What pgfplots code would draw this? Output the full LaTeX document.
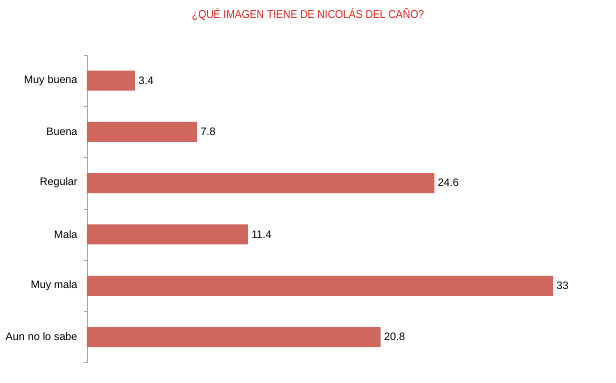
\documentclass[border=0pt]{standalone}
\usepackage{pgfplots}
\pgfplotsset{compat=1.18}
\usepackage{fontspec}
\setmainfont{Liberation Sans}
\definecolor{barc}{HTML}{D0675E}
\definecolor{titc}{HTML}{D7201E}
\begin{document}
\begin{tikzpicture}
\path[use as bounding box] (-87bp,-20.3bp) rectangle (529bp,362.7bp);
\begin{axis}[
  at={(0,0)}, anchor=south west,
  scale only axis, width=466bp, height=307.7bp,
  xmin=0, xmax=33, ymin=-0.5, ymax=5.5, y dir=reverse,
  xbar, bar width=20bp,
  axis y line*=left, axis x line=none,
  y axis line style={gray!70, line width=0.6pt},
  ytick={0,...,5},
  yticklabels={Muy buena,Buena,Regular,Mala,Muy mala,Aun no lo sabe},
  major tick length=0pt,
  minor ytick={-0.5,0.5,1.5,2.5,3.5,4.5,5.5},
  minor tick length=3bp,
  minor tick style={gray!70, line width=0.6pt},
  tick align=outside,
  yticklabel style={font=\fontsize{10.8}{12}\selectfont, xshift=-6bp},
  nodes near coords,
  nodes near coords style={font=\fontsize{10.8}{12}\selectfont, black, anchor=west, xshift=0bp},
  point meta=explicit symbolic,
  clip=false,
]
\addplot[fill=barc, draw=none] table[meta=l] {
x y l
3.4 0 3.4
7.8 1 7.8
24.6 2 24.6
11.4 3 11.4
33 4 33
20.8 5 20.8
};
\end{axis}
\node[text=titc, font=\fontsize{11.5}{13}\selectfont, xscale=0.9] at (221bp,347.7bp) {¿QUÉ IMAGEN TIENE DE NICOLÁS DEL CAÑO?};
\end{tikzpicture}
\end{document}
